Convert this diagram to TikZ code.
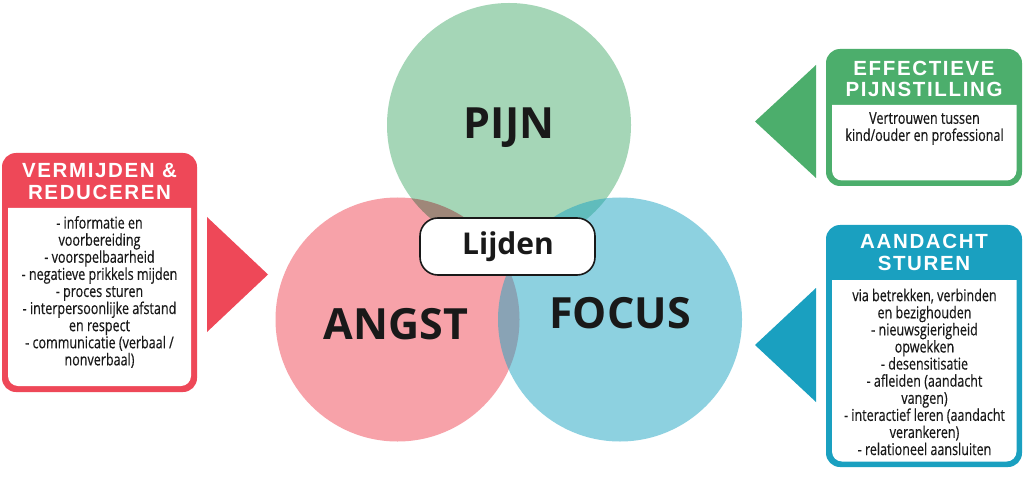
\documentclass[tikz,border=0pt]{standalone}
\usepackage{fontspec}
\newfontfamily\hdfont[LetterSpace=8]{Liberation Sans}
\newfontfamily\bodyfont[FakeStretch=0.77,FakeBold=0.4]{Open Sans}
\newfontfamily\lblfont{Open Sans}
\definecolor{cred}{RGB}{238,72,88}
\definecolor{cgreen}{RGB}{76,174,108}
\definecolor{cblue}{RGB}{26,160,192}
\definecolor{cbluec}{RGB}{28,164,194}
\definecolor{credl}{RGB}{247,162,169}
\definecolor{cgreenl}{RGB}{165,214,183}
\begin{document}
\begin{tikzpicture}[x=1pt,y=-1pt,
  hdr/.style={text=white, align=center, font=\hdfont\bfseries\fontsize{20.5}{21.5}\selectfont, inner sep=0pt},
  bodytxt/.style={text=black!90, align=center, font=\bodyfont\fontsize{16.3}{17.1}\selectfont, inner sep=0pt},
  circlbl/.style={text=black!90, font=\lblfont\bfseries\fontsize{43}{46}\selectfont, inner sep=0pt},
  lijdenbox/.style={draw=black!90, line width=1.6pt, fill=white, rounded corners=18pt, minimum width=175pt, minimum height=57pt, inner sep=0pt},
  whitebody/.style={fill=white}
]
\useasboundingbox (0,0) rectangle (1024,478);
\fill[white] (0,0) rectangle (1024,478);

% circles
\begin{scope}[blend group=multiply]
  \fill[cgreenl] (509,125) circle[radius=122];
  \fill[credl] (397.5,319.5) circle[radius=122];
\end{scope}
\fill[cbluec, opacity=0.5] (620,319.5) circle[radius=122];

\node[circlbl] (pijn) at (509,127.5) {PIJN};
\node[circlbl] (angst) at (396,324) {ANGST};
\node[circlbl] (focus) at (620,313) {FOCUS};

\node[lijdenbox] (lijden) at (507.5,246.5) {};
\node[font=\lblfont\bfseries\fontsize{30}{32}\selectfont, text=black!90, anchor=base, inner sep=0pt] (lijdentxt) at (508,254) {Lijden};

% left red box
\fill[cred, rounded corners=14pt] (2,153) rectangle (197,392);
\fill[whitebody] (8,208) -- (191,208) [rounded corners=10pt] -- (191,386) -- (8,386) [sharp corners] -- (8,208) -- cycle;
\node[hdr] (redhdr) at (99.5,181.5) {VERMIJDEN \&\\REDUCEREN};
\node[bodytxt] (redbody) at (99.5,292) {- informatie en\\voorbereiding\\- voorspelbaarheid\\- negatieve prikkels mijden\\- proces sturen\\- interpersoonlijke afstand\\en respect\\- communicatie (verbaal /\\nonverbaal)};
\fill[cred] (207,217) -- (268,274.5) -- (207,332) -- cycle;

% green box
\fill[cgreen, rounded corners=14pt] (826,49) rectangle (1022,186);
\fill[whitebody] (832,105) -- (1016.5,105) [rounded corners=10pt] -- (1016.5,180.5) -- (832,180.5) [sharp corners] -- (832,105) -- cycle;
\node[hdr] (greenhdr) at (924,79) {EFFECTIEVE\\PIJNSTILLING};
\node[bodytxt] (greenbody) at (924.5,128.5) {Vertrouwen tussen\\kind/ouder en professional};
\fill[cgreen] (816,65) -- (755,121.5) -- (816,178) -- cycle;

% blue box
\fill[cblue, rounded corners=14pt] (826,225) rectangle (1022,467);
\fill[whitebody] (832,280) -- (1016.5,280) [rounded corners=10pt] -- (1016.5,461.5) -- (832,461.5) [sharp corners] -- (832,280) -- cycle;
\node[hdr] (bluehdr) at (924,252.5) {AANDACHT\\STUREN};
\node[bodytxt] (bluebody) at (924.5,372) {via betrekken, verbinden\\en bezighouden\\- nieuwsgierigheid\\opwekken\\- desensitisatie\\- afleiden (aandacht\\vangen)\\- interactief leren (aandacht\\verankeren)\\- relationeel aansluiten};
\fill[cblue] (816,288) -- (755,345) -- (816,402) -- cycle;
\end{tikzpicture}
\end{document}
